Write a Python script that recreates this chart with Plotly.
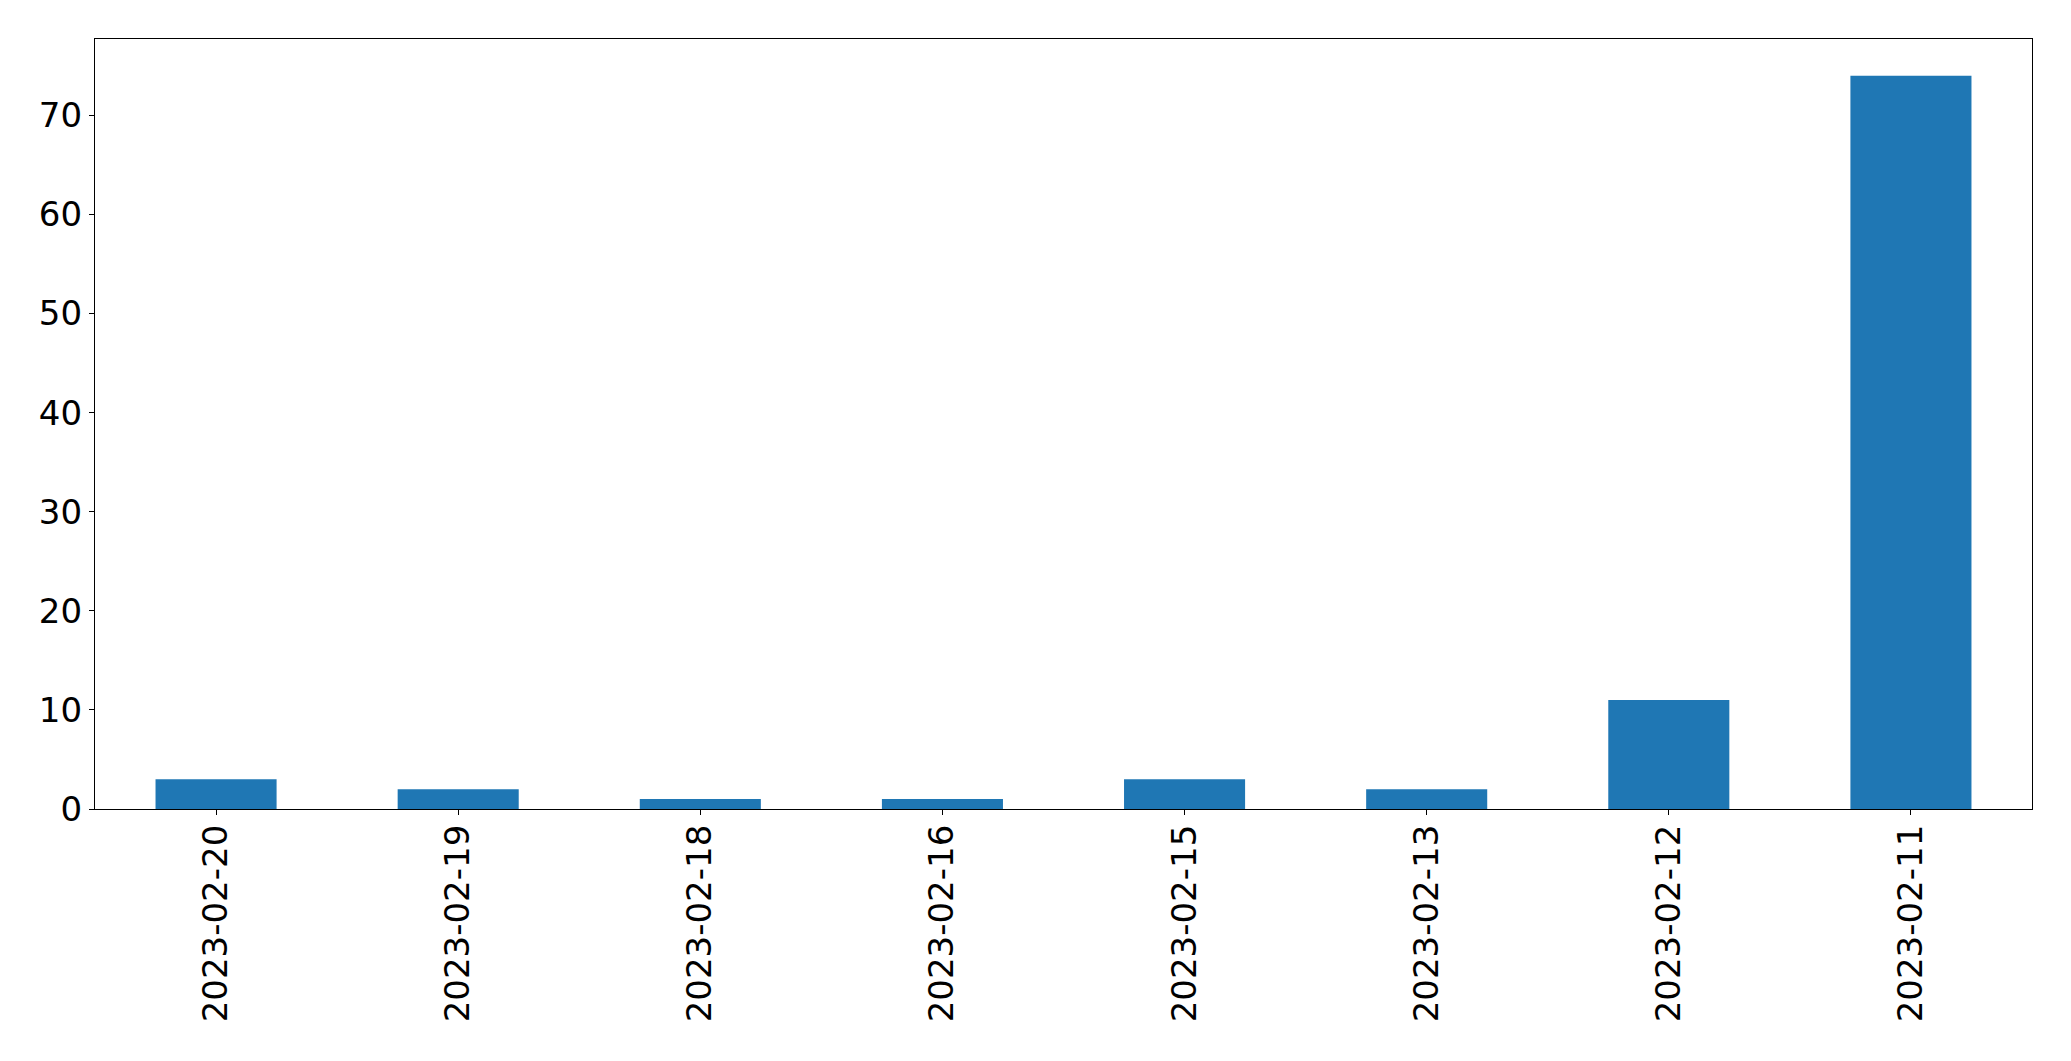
import plotly.graph_objects as go

dates = ["2023-02-20", "2023-02-19", "2023-02-18", "2023-02-16",
         "2023-02-15", "2023-02-13", "2023-02-12", "2023-02-11"]
counts = [3, 2, 1, 1, 3, 2, 11, 74]
y_ticks = [0, 10, 20, 30, 40, 50, 60, 70]

fig = go.Figure(go.Bar(x=dates, y=counts, width=0.5, marker_color="#1f77b4",
                       marker_line_width=0))

fig.update_layout(
    width=2055, height=1045,
    margin=dict(l=87, r=31, t=31, b=244, pad=0),
    paper_bgcolor="white", plot_bgcolor="white",
    font=dict(family="DejaVu Sans", size=34, color="black"),
    showlegend=False,
)
fig.update_xaxes(
    type="category", range=[-0.5, len(dates) - 0.5],
    tickangle=-90, ticks="outside", ticklen=5, tickwidth=1.3, tickcolor="black",
    showline=True, linecolor="black", linewidth=1.3, mirror=True,
    showgrid=False, zeroline=False, ticklabelstandoff=-4,
)
fig.update_yaxes(
    range=[0, 77.7], tickvals=y_ticks,
    ticks="outside", ticklen=5, tickwidth=1.3, tickcolor="black",
    showline=True, linecolor="black", linewidth=1.3, mirror=True,
    showgrid=False, zeroline=False, ticklabelstandoff=0,
)

fig.write_html("out.html")
